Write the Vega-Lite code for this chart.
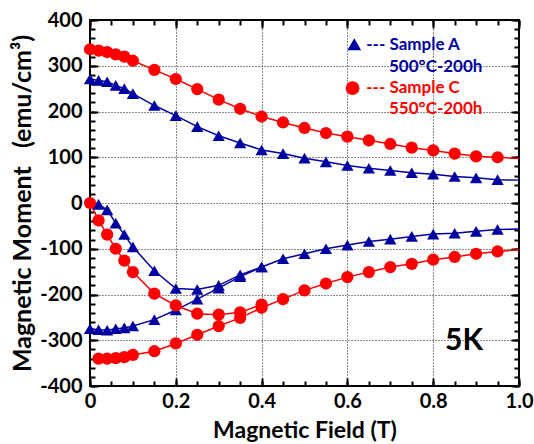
{
  "$schema": "https://vega.github.io/schema/vega-lite/v6.json",
  "width": 429,
  "height": 366,
  "autosize": {"type": "none"},
  "padding": {"left": 90, "top": 20, "right": 15, "bottom": 58},
  "background": "white",
  "config": {
    "view": {"stroke": "black", "strokeWidth": 2},
    "font": "Lato",
    "axis": {
      "domain": false,
      "tickColor": "black",
      "tickWidth": 2,
      "labelColor": "black",
      "titleColor": "black",
      "labelFont": "Lato",
      "titleFont": "Lato",
      "labelFontWeight": "bold",
      "titleFontWeight": "bold",
      "labelFontSize": 20,
      "titleFontSize": 23
    }
  },
  "datasets": {
    "curves": [
      {"sample": "A", "branch": "A upper", "field": 0, "moment": 271},
      {"sample": "A", "branch": "A upper", "field": 0.02, "moment": 268},
      {"sample": "A", "branch": "A upper", "field": 0.04, "moment": 265},
      {"sample": "A", "branch": "A upper", "field": 0.06, "moment": 257},
      {"sample": "A", "branch": "A upper", "field": 0.08, "moment": 250},
      {"sample": "A", "branch": "A upper", "field": 0.1, "moment": 239},
      {"sample": "A", "branch": "A upper", "field": 0.15, "moment": 213},
      {"sample": "A", "branch": "A upper", "field": 0.2, "moment": 191},
      {"sample": "A", "branch": "A upper", "field": 0.25, "moment": 167},
      {"sample": "A", "branch": "A upper", "field": 0.3, "moment": 147},
      {"sample": "A", "branch": "A upper", "field": 0.35, "moment": 131},
      {"sample": "A", "branch": "A upper", "field": 0.4, "moment": 116},
      {"sample": "A", "branch": "A upper", "field": 0.45, "moment": 108},
      {"sample": "A", "branch": "A upper", "field": 0.5, "moment": 98},
      {"sample": "A", "branch": "A upper", "field": 0.55, "moment": 90},
      {"sample": "A", "branch": "A upper", "field": 0.6, "moment": 82},
      {"sample": "A", "branch": "A upper", "field": 0.65, "moment": 76},
      {"sample": "A", "branch": "A upper", "field": 0.7, "moment": 71},
      {"sample": "A", "branch": "A upper", "field": 0.75, "moment": 66},
      {"sample": "A", "branch": "A upper", "field": 0.8, "moment": 63},
      {"sample": "A", "branch": "A upper", "field": 0.85, "moment": 58},
      {"sample": "A", "branch": "A upper", "field": 0.9, "moment": 55},
      {"sample": "A", "branch": "A upper", "field": 0.95, "moment": 51},
      {"sample": "A", "branch": "A upper", "field": 1.0, "moment": 50, "measured": false},
      {"sample": "A", "branch": "A virgin", "field": 0.02, "moment": -3},
      {"sample": "A", "branch": "A virgin", "field": 0.04, "moment": -15},
      {"sample": "A", "branch": "A virgin", "field": 0.06, "moment": -44},
      {"sample": "A", "branch": "A virgin", "field": 0.08, "moment": -69},
      {"sample": "A", "branch": "A virgin", "field": 0.1, "moment": -96},
      {"sample": "A", "branch": "A virgin", "field": 0.15, "moment": -148},
      {"sample": "A", "branch": "A virgin", "field": 0.2, "moment": -187},
      {"sample": "A", "branch": "A virgin", "field": 0.25, "moment": -189},
      {"sample": "A", "branch": "A virgin", "field": 0.3, "moment": -180},
      {"sample": "A", "branch": "A virgin", "field": 0.35, "moment": -157},
      {"sample": "A", "branch": "A virgin", "field": 0.4, "moment": -140},
      {"sample": "A", "branch": "A lower", "field": 0, "moment": -275},
      {"sample": "A", "branch": "A lower", "field": 0.02, "moment": -277},
      {"sample": "A", "branch": "A lower", "field": 0.04, "moment": -278},
      {"sample": "A", "branch": "A lower", "field": 0.06, "moment": -275},
      {"sample": "A", "branch": "A lower", "field": 0.08, "moment": -273},
      {"sample": "A", "branch": "A lower", "field": 0.1, "moment": -269},
      {"sample": "A", "branch": "A lower", "field": 0.15, "moment": -255},
      {"sample": "A", "branch": "A lower", "field": 0.2, "moment": -234},
      {"sample": "A", "branch": "A lower", "field": 0.25, "moment": -210},
      {"sample": "A", "branch": "A lower", "field": 0.3, "moment": -186},
      {"sample": "A", "branch": "A lower", "field": 0.35, "moment": -161},
      {"sample": "A", "branch": "A lower", "field": 0.4, "moment": -140},
      {"sample": "A", "branch": "A lower", "field": 0.45, "moment": -122},
      {"sample": "A", "branch": "A lower", "field": 0.5, "moment": -111},
      {"sample": "A", "branch": "A lower", "field": 0.55, "moment": -100},
      {"sample": "A", "branch": "A lower", "field": 0.6, "moment": -92},
      {"sample": "A", "branch": "A lower", "field": 0.65, "moment": -84},
      {"sample": "A", "branch": "A lower", "field": 0.7, "moment": -79},
      {"sample": "A", "branch": "A lower", "field": 0.75, "moment": -73},
      {"sample": "A", "branch": "A lower", "field": 0.8, "moment": -68},
      {"sample": "A", "branch": "A lower", "field": 0.85, "moment": -66},
      {"sample": "A", "branch": "A lower", "field": 0.9, "moment": -62},
      {"sample": "A", "branch": "A lower", "field": 0.95, "moment": -58},
      {"sample": "A", "branch": "A lower", "field": 1.0, "moment": -57, "measured": false},
      {"sample": "C", "branch": "C upper", "field": 0, "moment": 336},
      {"sample": "C", "branch": "C upper", "field": 0.02, "moment": 333},
      {"sample": "C", "branch": "C upper", "field": 0.04, "moment": 330},
      {"sample": "C", "branch": "C upper", "field": 0.06, "moment": 325},
      {"sample": "C", "branch": "C upper", "field": 0.08, "moment": 320},
      {"sample": "C", "branch": "C upper", "field": 0.1, "moment": 311},
      {"sample": "C", "branch": "C upper", "field": 0.15, "moment": 291},
      {"sample": "C", "branch": "C upper", "field": 0.2, "moment": 271},
      {"sample": "C", "branch": "C upper", "field": 0.25, "moment": 249},
      {"sample": "C", "branch": "C upper", "field": 0.3, "moment": 226},
      {"sample": "C", "branch": "C upper", "field": 0.35, "moment": 206},
      {"sample": "C", "branch": "C upper", "field": 0.4, "moment": 189},
      {"sample": "C", "branch": "C upper", "field": 0.45, "moment": 176},
      {"sample": "C", "branch": "C upper", "field": 0.5, "moment": 164},
      {"sample": "C", "branch": "C upper", "field": 0.55, "moment": 153},
      {"sample": "C", "branch": "C upper", "field": 0.6, "moment": 145},
      {"sample": "C", "branch": "C upper", "field": 0.65, "moment": 137},
      {"sample": "C", "branch": "C upper", "field": 0.7, "moment": 129},
      {"sample": "C", "branch": "C upper", "field": 0.75, "moment": 121},
      {"sample": "C", "branch": "C upper", "field": 0.8, "moment": 115},
      {"sample": "C", "branch": "C upper", "field": 0.85, "moment": 108},
      {"sample": "C", "branch": "C upper", "field": 0.9, "moment": 102},
      {"sample": "C", "branch": "C upper", "field": 0.95, "moment": 100},
      {"sample": "C", "branch": "C upper", "field": 1.0, "moment": 97, "measured": false},
      {"sample": "C", "branch": "C virgin", "field": 0, "moment": 0},
      {"sample": "C", "branch": "C virgin", "field": 0.02, "moment": -38},
      {"sample": "C", "branch": "C virgin", "field": 0.04, "moment": -69},
      {"sample": "C", "branch": "C virgin", "field": 0.06, "moment": -100},
      {"sample": "C", "branch": "C virgin", "field": 0.08, "moment": -126},
      {"sample": "C", "branch": "C virgin", "field": 0.1, "moment": -151},
      {"sample": "C", "branch": "C virgin", "field": 0.15, "moment": -198},
      {"sample": "C", "branch": "C virgin", "field": 0.2, "moment": -224},
      {"sample": "C", "branch": "C virgin", "field": 0.25, "moment": -242},
      {"sample": "C", "branch": "C virgin", "field": 0.3, "moment": -244},
      {"sample": "C", "branch": "C virgin", "field": 0.35, "moment": -239},
      {"sample": "C", "branch": "C virgin", "field": 0.4, "moment": -222},
      {"sample": "C", "branch": "C lower", "field": 0.02, "moment": -340},
      {"sample": "C", "branch": "C lower", "field": 0.04, "moment": -340},
      {"sample": "C", "branch": "C lower", "field": 0.06, "moment": -339},
      {"sample": "C", "branch": "C lower", "field": 0.08, "moment": -337},
      {"sample": "C", "branch": "C lower", "field": 0.1, "moment": -332},
      {"sample": "C", "branch": "C lower", "field": 0.15, "moment": -324},
      {"sample": "C", "branch": "C lower", "field": 0.2, "moment": -307},
      {"sample": "C", "branch": "C lower", "field": 0.25, "moment": -288},
      {"sample": "C", "branch": "C lower", "field": 0.3, "moment": -269},
      {"sample": "C", "branch": "C lower", "field": 0.35, "moment": -251},
      {"sample": "C", "branch": "C lower", "field": 0.4, "moment": -229},
      {"sample": "C", "branch": "C lower", "field": 0.45, "moment": -210},
      {"sample": "C", "branch": "C lower", "field": 0.5, "moment": -191},
      {"sample": "C", "branch": "C lower", "field": 0.55, "moment": -176},
      {"sample": "C", "branch": "C lower", "field": 0.6, "moment": -162},
      {"sample": "C", "branch": "C lower", "field": 0.65, "moment": -151},
      {"sample": "C", "branch": "C lower", "field": 0.7, "moment": -140},
      {"sample": "C", "branch": "C lower", "field": 0.75, "moment": -133},
      {"sample": "C", "branch": "C lower", "field": 0.8, "moment": -124},
      {"sample": "C", "branch": "C lower", "field": 0.85, "moment": -118},
      {"sample": "C", "branch": "C lower", "field": 0.9, "moment": -111},
      {"sample": "C", "branch": "C lower", "field": 0.95, "moment": -106},
      {"sample": "C", "branch": "C lower", "field": 1.0, "moment": -102, "measured": false}
    ],
    "legend_labels": [
      {"sample": "A", "field": 0.644, "moment": 346, "text": "--- Sample A"},
      {"sample": "A", "field": 0.697, "moment": 297, "text": "500°C-200h"},
      {"sample": "C", "field": 0.644, "moment": 251, "text": "--- Sample C"},
      {"sample": "C", "field": 0.697, "moment": 205, "text": "550°C-200h"}
    ],
    "legend_marks": [
      {"sample": "A", "field": 0.616, "moment": 347},
      {"sample": "C", "field": 0.612, "moment": 251}
    ],
    "note": [
      {"field": 0.872, "moment": -302, "text": "5K"}
    ]
  },
  "resolve": {"axis": {"x": "independent", "y": "independent"}},
  "layer": [
    {
      "data": {"name": "curves"},
      "mark": {"type": "line", "strokeWidth": 1.5},
      "encoding": {
        "x": {
          "field": "field", "type": "quantitative",
          "scale": {"domain": [0, 1], "nice": false, "zero": false},
          "axis": {
            "orient": "bottom",
            "values": [0, 0.2, 0.4, 0.6, 0.8, 1.0],
            "tickSize": -8,
            "labelPadding": 13,
            "labelFlush": false,
            "labelExpr": "datum.value == 0 ? '0' : format(datum.value, '.1f')",
            "grid": true,
            "gridColor": "black",
            "gridDash": [1, 2],
            "gridWidth": 1,
            "gridOpacity": 0.9,
            "title": "Magnetic Field (T)",
            "titlePadding": 8
          }
        },
        "y": {
          "field": "moment", "type": "quantitative",
          "scale": {"domain": [-400, 400], "nice": false, "zero": false},
          "axis": {
            "orient": "left",
            "values": [-400, -300, -200, -100, 0, 100, 200, 300, 400],
            "tickSize": -8,
            "labelPadding": 16,
            "labelFlush": false,
            "labelExpr": "'' + datum.value",
            "grid": true,
            "gridColor": "black",
            "gridDash": [1, 2],
            "gridWidth": 1,
            "gridOpacity": 0.9,
            "title": "Magnetic Moment\u00a0\u00a0 (emu/cm³)",
            "titleFontSize": 25,
            "titlePadding": 4
          }
        },
        "color": {
          "field": "sample", "type": "nominal",
          "scale": {"domain": ["A", "C"], "range": ["#0000a0", "#ff0000"]},
          "legend": null
        },
        "detail": {"field": "branch", "type": "nominal"}
      }
    },
    {
      "data": {"name": "curves"},
      "transform": [{"filter": "datum.measured !== false"}],
      "mark": {"type": "point", "filled": true, "opacity": 1, "size": 150},
      "encoding": {
        "x": {
          "field": "field", "type": "quantitative",
          "axis": {"orient": "top", "values": [0, 0.2, 0.4, 0.6, 0.8, 1.0], "tickSize": -8, "labels": false, "grid": false, "title": null}
        },
        "y": {
          "field": "moment", "type": "quantitative",
          "axis": {"orient": "right", "values": [-400, -300, -200, -100, 0, 100, 200, 300, 400], "tickSize": -8, "labels": false, "grid": false, "title": null}
        },
        "color": {"field": "sample", "type": "nominal", "legend": null},
        "shape": {
          "field": "sample", "type": "nominal",
          "scale": {"domain": ["A", "C"], "range": ["triangle-up", "circle"]},
          "legend": null
        }
      }
    },
    {
      "data": {"name": "note"},
      "mark": {"type": "text", "fontSize": 30, "fontWeight": "bold", "font": "Lato", "color": "black", "align": "center", "baseline": "middle"},
      "encoding": {
        "x": {
          "field": "field", "type": "quantitative",
          "axis": {"orient": "bottom", "values": [0, 0.05, 0.1, 0.15, 0.2, 0.25, 0.3, 0.35, 0.4, 0.45, 0.5, 0.55, 0.6, 0.65, 0.7, 0.75, 0.8, 0.85, 0.9, 0.95, 1.0], "tickSize": -5, "labels": false, "grid": false, "title": null}
        },
        "y": {
          "field": "moment", "type": "quantitative",
          "axis": {"orient": "left", "values": [-400, -380, -360, -340, -320, -300, -280, -260, -240, -220, -200, -180, -160, -140, -120, -100, -80, -60, -40, -20, 0, 20, 40, 60, 80, 100, 120, 140, 160, 180, 200, 220, 240, 260, 280, 300, 320, 340, 360, 380, 400], "tickSize": -5, "labels": false, "grid": false, "title": null}
        },
        "text": {"field": "text"}
      }
    },
    {
      "data": {"name": "legend_labels"},
      "mark": {"type": "text", "fontSize": 17, "fontWeight": "bold", "font": "Lato", "align": "left", "baseline": "middle"},
      "encoding": {
        "x": {
          "field": "field", "type": "quantitative",
          "axis": {"orient": "top", "values": [0, 0.05, 0.1, 0.15, 0.2, 0.25, 0.3, 0.35, 0.4, 0.45, 0.5, 0.55, 0.6, 0.65, 0.7, 0.75, 0.8, 0.85, 0.9, 0.95, 1.0], "tickSize": -5, "labels": false, "grid": false, "title": null}
        },
        "y": {
          "field": "moment", "type": "quantitative",
          "axis": {"orient": "right", "values": [-400, -380, -360, -340, -320, -300, -280, -260, -240, -220, -200, -180, -160, -140, -120, -100, -80, -60, -40, -20, 0, 20, 40, 60, 80, 100, 120, 140, 160, 180, 200, 220, 240, 260, 280, 300, 320, 340, 360, 380, 400], "tickSize": -5, "labels": false, "grid": false, "title": null}
        },
        "color": {"field": "sample", "type": "nominal", "legend": null},
        "text": {"field": "text"}
      }
    },
    {
      "data": {"name": "legend_marks"},
      "mark": {"type": "point", "filled": true, "opacity": 1, "size": 190},
      "encoding": {
        "x": {"field": "field", "type": "quantitative", "axis": null},
        "y": {"field": "moment", "type": "quantitative", "axis": null},
        "color": {"field": "sample", "type": "nominal", "legend": null},
        "shape": {"field": "sample", "type": "nominal", "legend": null}
      }
    }
  ]
}
